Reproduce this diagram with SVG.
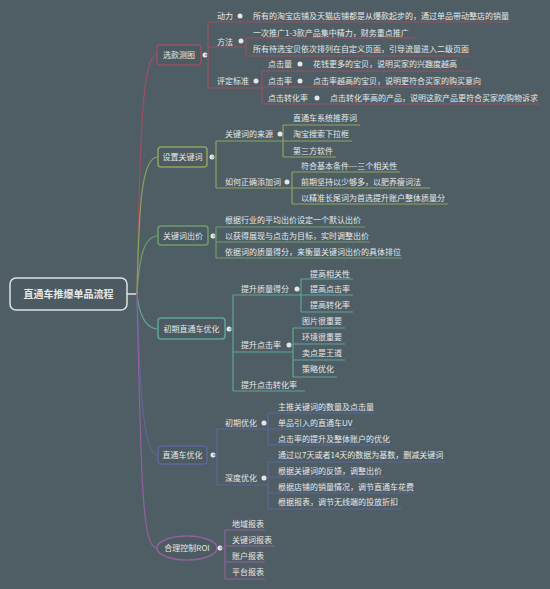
<svg xmlns="http://www.w3.org/2000/svg" width="550" height="589" viewBox="0 0 550 589">
<style>
text{font-family:"Noto Sans CJK SC","Noto Sans",sans-serif;font-size:8px;fill:#e6e8e8}
.root{font-size:10px;font-weight:bold}
.c{text-anchor:middle}
.ln{fill:none;stroke-width:1.2}
.box{fill:#4c5a61;stroke-width:1.5}
.dot{fill:#e4e6ea}
.p{stroke:#9b4f63}.g{stroke:#8ea35f}.g2{stroke:#6e9e6a}.t{stroke:#5fa398}.b{stroke:#5b679a}.u{stroke:#92609e}
</style>
<rect width="550" height="589" fill="#4f5e65"/>
<g id="connectors">
<line x1="127" y1="294" x2="137" y2="294" stroke="#e0e2e2" stroke-width="1.5"/>
<path class="ln p" stroke-width="1.5" d="M137,294 C140,120 143,55 157,55"/>
<path class="ln g" stroke-width="1.5" d="M137,294 C139,200 142,157 158,157"/>
<path class="ln g2" stroke-width="1.5" d="M137,294 C139,260 143,236 158,236"/>
<path class="ln t" stroke-width="1.5" d="M137,294 C139,315 146,329 158,329"/>
<path class="ln b" stroke-width="1.5" d="M137,294 C140,400 144,455 158,455"/>
<path class="ln u" stroke-width="1.5" d="M137,294 C141,480 142,548 157,548"/>
</g>
<g id="root">
<rect x="10" y="278" width="117" height="32" rx="6" fill="#4c5a61" stroke="#e0e2e2" stroke-width="1.5"/>
<text class="root c" x="68.5" y="298">直通车推爆单品流程</text>
</g>
<g id="b1">
<rect class="box p" x="157" y="45" width="44" height="20" rx="3"/>
<text class="c" x="179" y="58">选款测图</text>
<circle class="dot" cx="205" cy="55" r="2.5"/>
<path class="ln p" d="M205,55 H208 M208,22 V88 M208,22 H510 M208,47 H246 M246,38 V56 M246,38 H415 M246,56 H470 M208,88 H262 M262,71 V104 M262,71 H472 M262,87 H480 M262,104 H540"/>
<text x="217" y="19">动力</text><circle class="dot" cx="240" cy="16" r="2.5"/>
<text x="253" y="19">所有的淘宝店铺及天猫店铺都是从爆款起步的，通过单品带动整店的销量</text>
<text x="217" y="45">方法</text><circle class="dot" cx="241" cy="41" r="2.5"/>
<text x="253" y="36">一次推广1-3款产品集中精力，财务重点推广</text>
<text x="253" y="52">所有待选宝贝依次排列在自定义页面，引导流量进入二级页面</text>
<text x="217" y="84">评定标准</text><circle class="dot" cx="256" cy="81" r="2.5"/>
<text x="268" y="67">点击量</text><circle class="dot" cx="300" cy="64" r="2.5"/>
<text x="313" y="67">花钱更多的宝贝，说明买家的兴趣度越高</text>
<text x="268" y="84">点击率</text><circle class="dot" cx="300" cy="81" r="2.5"/>
<text x="313" y="84">点击率越高的宝贝，说明更符合买家的购买意向</text>
<text x="268" y="101">点击转化率</text><circle class="dot" cx="317" cy="98" r="2.5"/>
<text x="330" y="101">点击转化率高的产品，说明这款产品更符合买家的购物诉求</text>
</g>
<g id="b2">
<rect class="box g" x="158" y="147" width="49" height="20" rx="3"/>
<text class="c" x="182.5" y="160">设置关键词</text>
<circle class="dot" cx="212" cy="157" r="2.5"/>
<path class="ln g" d="M212,157 H216 M216,141 V188 M216,141 H283 M283,125 V157 M283,125 H360 M283,141 H352 M283,157 H336 M216,188 H292 M292,172 V204 M292,172 H400 M292,188 H430 M292,204 H448"/>
<text x="225" y="137">关键词的来源</text><circle class="dot" cx="280" cy="134" r="2.5"/>
<text x="293" y="121">直通车系统推荐词</text>
<text x="293" y="137">淘宝搜索下拉框</text>
<text x="293" y="154">第三方软件</text>
<text x="225" y="185">如何正确添加词</text><circle class="dot" cx="287" cy="182" r="2.5"/>
<text x="301" y="169">符合基本条件---三个相关性</text>
<text x="301" y="185">前期坚持以少够多，以肥养瘦词法</text>
<text x="301" y="201">以精准长尾词为首选提升账户整体质量分</text>
</g>
<g id="b3">
<rect class="box g2" x="158" y="226" width="50" height="19" rx="3"/>
<text class="c" x="183" y="239">关键词出价</text>
<circle class="dot" cx="213" cy="236" r="2.5"/>
<path class="ln g2" d="M213,236 H216 M216,227 V258 M216,227 H365 M216,242 H370 M216,258 H402"/>
<text x="225" y="223">根据行业的平均出价设定一个默认出价</text>
<text x="225" y="239">以获得展现与点击为目标，实时调整出价</text>
<text x="225" y="255">依据词的质量得分，来衡量关键词出价的具体排位</text>
</g>
<g id="b4">
<rect class="box t" x="158" y="318" width="67" height="21" rx="3"/>
<text class="c" x="191.5" y="332">初期直通车优化</text>
<circle class="dot" cx="229" cy="329" r="2.5"/>
<path class="ln t" d="M229,329 H233 M233,295 V391 M233,295 H301 M301,279 V312 M301,279 H353 M301,295 H353 M301,312 H353 M233,352 H293 M293,328 V377 M293,328 H345 M293,344 H345 M293,360 H345 M293,377 H337 M233,391 H305"/>
<text x="241" y="292">提升质量得分</text><circle class="dot" cx="297" cy="289" r="2.5"/>
<text x="310" y="277">提高相关性</text>
<text x="310" y="292">提高点击率</text>
<text x="310" y="308">提高转化率</text>
<text x="241" y="348">提升点击率</text><circle class="dot" cx="289" cy="345" r="2.5"/>
<text x="302" y="324">图片很重要</text>
<text x="302" y="340">环境很重要</text>
<text x="302" y="356">卖点是王道</text>
<text x="302" y="372">策略优化</text>
<text x="241" y="388">提升点击转化率</text>
</g>
<g id="b5">
<rect class="box b" x="158" y="446" width="49" height="18" rx="3"/>
<text class="c" x="182.5" y="458">直通车优化</text>
<circle class="dot" cx="213" cy="455" r="2.5"/>
<path class="ln b" d="M213,455 H217 M217,429 V485 M217,429 H268 M268,413 V445 M268,413 H375 M268,429 H355 M268,445 H390 M217,485 H268 M268,462 V509 M268,462 H445 M268,477 H385 M268,493 H415 M268,509 H402"/>
<text x="225" y="426">初期优化</text><circle class="dot" cx="264" cy="423" r="2.5"/>
<text x="278" y="410">主推关键词的数量及点击量</text>
<text x="278" y="426">单品引入的直通车UV</text>
<text x="278" y="442">点击率的提升及整体账户的优化</text>
<text x="225" y="481">深度优化</text><circle class="dot" cx="264" cy="478" r="2.5"/>
<text x="278" y="458">通过以7天或者14天的数据为基数，删减关键词</text>
<text x="278" y="474">根据关键词的反馈，调整出价</text>
<text x="278" y="490">根据店铺的销量情况，调节直通车花费</text>
<text x="278" y="505">根据报表，调节无线端的投放折扣</text>
</g>
<g id="b6">
<ellipse class="box u" cx="187" cy="548" rx="30" ry="12"/>
<text class="c" x="187" y="551">合理控制ROI</text>
<circle class="dot" cx="220" cy="548" r="2.5"/>
<path class="ln u" d="M220,548 H225 M225,530 V579 M225,530 H265 M225,546 H275 M225,562 H265 M225,579 H265"/>
<text x="232" y="527">地域报表</text>
<text x="232" y="543">关键词报表</text>
<text x="232" y="559">账户报表</text>
<text x="232" y="575">平台报表</text>
</g>
</svg>
